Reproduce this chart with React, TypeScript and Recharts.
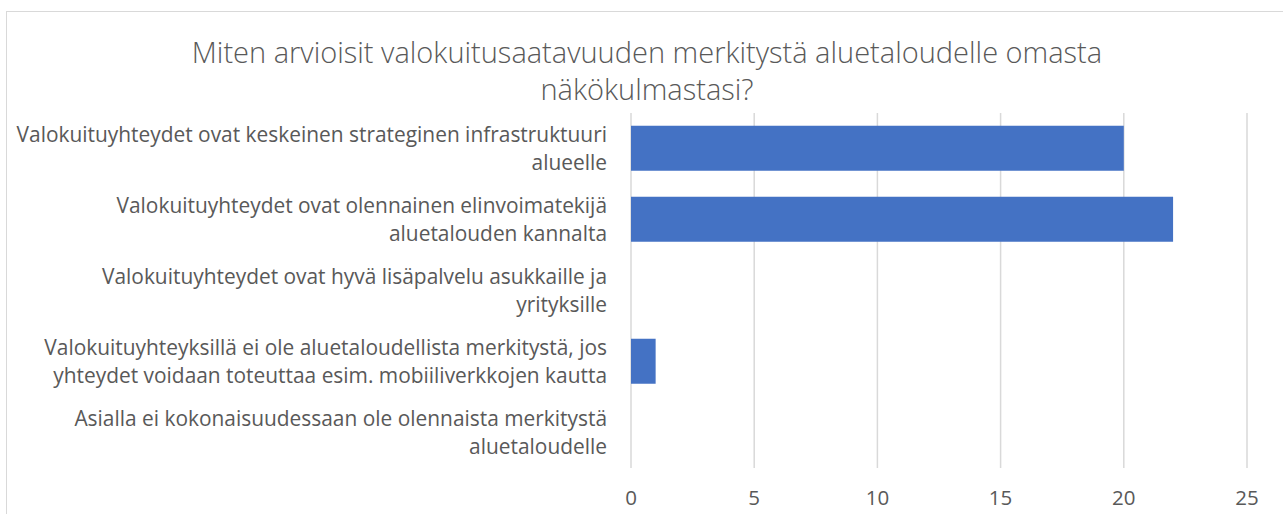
import React from "react";
import { BarChart, Bar, XAxis, YAxis, CartesianGrid } from "recharts";

const categories = [
  "Valokuituyhteydet ovat keskeinen strateginen infrastruktuuri\nalueelle",
  "Valokuituyhteydet ovat olennainen elinvoimatekijä\naluetalouden kannalta",
  "Valokuituyhteydet ovat hyvä lisäpalvelu asukkaille ja\nyrityksille",
  "Valokuituyhteyksillä ei ole aluetaloudellista merkitystä, jos\nyhteydet voidaan toteuttaa esim. mobiiliverkkojen kautta",
  "Asialla ei kokonaisuudessaan ole olennaista merkitystä\naluetaloudelle",
];
const counts = [20, 22, 0, 1, 0];
const xTicks = [0, 5, 10, 15, 20, 25];
const titleLines = [
  "Miten arvioisit valokuitusaatavuuden merkitystä aluetaloudelle omasta",
  "näkökulmastasi?",
];

const data = categories.map((name, i) => ({ name, value: counts[i] }));

const FONT = "'Open Sans', Lato, sans-serif";
const TEXT = "#595959";

const CategoryTick = (props: any) => {
  const { x, y, payload } = props;
  const lines = String(payload.value).split("\n");
  return (
    <g>
      {lines.map((line, i) => (
        <text
          key={i}
          x={x - 16}
          y={y + (i - (lines.length - 1) / 2) * 28}
          dy="0.35em"
          textAnchor="end"
          fill={TEXT}
          fontSize={20.9}
          fontFamily={FONT}
        >
          {line}
        </text>
      ))}
    </g>
  );
};

const ValueTick = (props: any) => {
  const { x, y, payload } = props;
  return (
    <text
      x={x}
      y={y + 22}
      dy="0.35em"
      textAnchor="middle"
      fill={TEXT}
      fontSize={20.5}
      fontFamily={FONT}
    >
      {payload.value}
    </text>
  );
};

export default function App() {
  return (
    <div
      style={{
        position: "fixed",
        left: 0,
        top: 0,
        width: 1283,
        height: 514,
        overflow: "hidden",
        background: "white",
      }}
    >
      <div
        style={{
          position: "absolute",
          left: 6,
          top: 11,
          width: 1320,
          height: 560,
          border: "1px solid #d9d9d9",
        }}
      />
      <div style={{ position: "absolute", left: 0, top: 0 }}>
        <BarChart
          width={1283}
          height={514}
          data={data}
          layout="vertical"
          margin={{ top: 113, right: 36, bottom: 0, left: 0 }}
          barCategoryGap="18%"
        >
          <text
            x={647}
            y={63}
            textAnchor="middle"
            fill={TEXT}
            fontSize={29}
            fontFamily={FONT}
            fontWeight={300}
          >
            {titleLines.map((line, i) => (
              <tspan key={i} x={647} dy={i === 0 ? 0 : 37}>
                {line}
              </tspan>
            ))}
          </text>
          <CartesianGrid horizontal={false} stroke="#d9d9d9" strokeWidth={1.5} />
          <XAxis
            type="number"
            domain={[0, 25]}
            ticks={xTicks}
            axisLine={false}
            tickLine={false}
            height={46}
            tick={<ValueTick />}
            interval={0}
          />
          <YAxis
            type="category"
            dataKey="name"
            width={631}
            axisLine={false}
            tickLine={false}
            tick={<CategoryTick />}
            interval={0}
          />
          <Bar dataKey="value" fill="#4472C4" isAnimationActive={false} />
        </BarChart>
      </div>
    </div>
  );
}
